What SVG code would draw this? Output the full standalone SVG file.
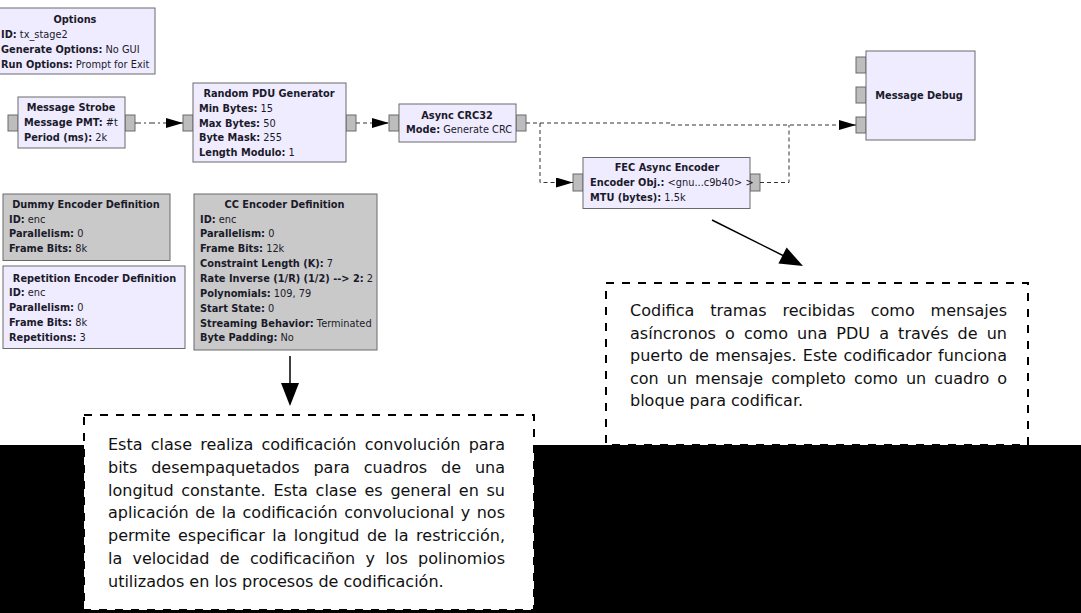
<svg xmlns="http://www.w3.org/2000/svg" width="1081" height="613" viewBox="0 0 1081 613">
<style>
.blk{fill:#f0ecff;stroke:#6a6a6a;stroke-width:1}
.gry{fill:#c9c9c9;stroke:#6a6a6a;stroke-width:1}
.port{fill:#bdbdbd;stroke:#6a6a6a;stroke-width:1}
.t{font-family:"DejaVu Sans",sans-serif;font-size:9.8px;fill:#1a1a2a}
.ttl{font-weight:bold;text-anchor:middle}
.b{font-weight:bold}
.con{fill:none;stroke:#333;stroke-width:1;stroke-dasharray:4,3}
.note{fill:#fff;stroke:#000;stroke-width:2;stroke-dasharray:8,8}
.nt{font-family:"DejaVu Sans",sans-serif;font-size:16px;fill:#111}
</style>
<defs>
<marker id="ah" markerUnits="userSpaceOnUse" markerWidth="18" markerHeight="12" refX="17" refY="5" orient="auto">
<path d="M0,0 L17,5 L0,10 Z" fill="#000"/>
</marker>
</defs>
<rect x="0" y="445" width="1081" height="168" fill="#000"/>

<g id="options">
<rect class="blk" x="-5" y="8" width="160" height="66"/>
<text class="t ttl" x="75" y="22.7">Options</text>
<text class="t" x="1" y="38"><tspan class="b">ID:</tspan> tx_stage2</text>
<text class="t" x="1" y="53"><tspan class="b">Generate Options:</tspan> No GUI</text>
<text class="t" x="1" y="68"><tspan class="b">Run Options:</tspan> Prompt for Exit</text>
</g>

<g id="message_strobe">
<rect class="port" x="8" y="115" width="10" height="16"/>
<rect class="port" x="125" y="115" width="10" height="16"/>
<rect class="blk" x="18" y="97" width="107" height="51"/>
<text class="t ttl" x="71" y="110.7">Message Strobe</text>
<text class="t" x="24" y="126.3"><tspan class="b">Message PMT:</tspan> #t</text>
<text class="t" x="24" y="140.7"><tspan class="b">Period (ms):</tspan> 2k</text>
</g>

<g id="random_pdu">
<rect class="port" x="183" y="115" width="10" height="16"/>
<rect class="port" x="346" y="115" width="10" height="16"/>
<rect class="blk" x="193" y="83" width="153" height="79"/>
<text class="t ttl" x="269" y="97">Random PDU Generator</text>
<text class="t" x="199" y="112"><tspan class="b">Min Bytes:</tspan> 15</text>
<text class="t" x="199" y="126.5"><tspan class="b">Max Bytes:</tspan> 50</text>
<text class="t" x="199" y="141"><tspan class="b">Byte Mask:</tspan> 255</text>
<text class="t" x="199" y="155.5"><tspan class="b">Length Modulo:</tspan> 1</text>
</g>

<g id="async_crc32">
<rect class="port" x="389" y="115" width="10" height="16"/>
<rect class="port" x="516" y="115" width="10" height="16"/>
<rect class="blk" x="399" y="104" width="117" height="38"/>
<text class="t ttl" x="457" y="119.3">Async CRC32</text>
<text class="t" x="406" y="133"><tspan class="b">Mode:</tspan> Generate CRC</text>
</g>

<g id="message_debug">
<rect class="port" x="856" y="57" width="10" height="16"/>
<rect class="port" x="856" y="87" width="10" height="16"/>
<rect class="port" x="856" y="117" width="10" height="16"/>
<rect class="blk" x="866" y="51" width="109" height="89"/>
<text class="t ttl" x="919" y="98.7">Message Debug</text>
</g>

<g id="fec_async_encoder">
<rect class="port" x="573" y="174" width="10" height="17"/>
<rect class="port" x="750" y="174" width="10" height="17"/>
<rect class="blk" x="583" y="157.5" width="167" height="51"/>
<text class="t ttl" x="667" y="171.4">FEC Async Encoder</text>
<text class="t" x="590" y="186.4"><tspan class="b">Encoder Obj.:</tspan> &lt;gnu...c9b40&gt; &gt;</text>
<text class="t" x="590" y="201"><tspan class="b">MTU (bytes):</tspan> 1.5k</text>
</g>

<g id="dummy_encoder">
<rect class="gry" x="3" y="194" width="167" height="66.5"/>
<text class="t ttl" x="86" y="207.7">Dummy Encoder Definition</text>
<text class="t" x="9" y="223"><tspan class="b">ID:</tspan> enc</text>
<text class="t" x="9" y="237"><tspan class="b">Parallelism:</tspan> 0</text>
<text class="t" x="9" y="252"><tspan class="b">Frame Bits:</tspan> 8k</text>
</g>

<g id="repetition_encoder">
<rect class="blk" x="3" y="266" width="182" height="82.5"/>
<text class="t ttl" x="94.5" y="282">Repetition Encoder Definition</text>
<text class="t" x="9" y="296.4"><tspan class="b">ID:</tspan> enc</text>
<text class="t" x="9" y="311"><tspan class="b">Parallelism:</tspan> 0</text>
<text class="t" x="9" y="326.4"><tspan class="b">Frame Bits:</tspan> 8k</text>
<text class="t" x="9" y="341"><tspan class="b">Repetitions:</tspan> 3</text>
</g>

<g id="cc_encoder">
<rect class="gry" x="194" y="194" width="183" height="156"/>
<text class="t ttl" x="284.5" y="207.7">CC Encoder Definition</text>
<text class="t" x="200" y="222.8"><tspan class="b">ID:</tspan> enc</text>
<text class="t" x="200" y="237.3"><tspan class="b">Parallelism:</tspan> 0</text>
<text class="t" x="200" y="252.2"><tspan class="b">Frame Bits:</tspan> 12k</text>
<text class="t" x="200" y="267"><tspan class="b">Constraint Length (K):</tspan> 7</text>
<text class="t" x="200" y="282"><tspan class="b">Rate Inverse (1/R) (1/2) --&gt; 2:</tspan> 2</text>
<text class="t" x="200" y="297"><tspan class="b">Polynomials:</tspan> 109, 79</text>
<text class="t" x="200" y="312"><tspan class="b">Start State:</tspan> 0</text>
<text class="t" x="200" y="327"><tspan class="b">Streaming Behavior:</tspan> Terminated</text>
<text class="t" x="200" y="341"><tspan class="b">Byte Padding:</tspan> No</text>
</g>

<g id="connectors">
<path class="con" style="stroke-dasharray:6,3,2,3" d="M135,123 H183" marker-end="url(#ah)"/>
<path class="con" d="M356,123 H389" marker-end="url(#ah)"/>
<path class="con" d="M526,123 H671 V125 H856" marker-end="url(#ah)"/>
<path class="con" d="M540,123 V182.5 H573" marker-end="url(#ah)"/>
<path class="con" d="M760,182.5 H789 V125"/>
<line x1="712" y1="220" x2="786" y2="257" stroke="#000" stroke-width="1.5"/>
<polygon points="778.4,263.6 786.6,247.6 803,266" fill="#000"/>
<line x1="290" y1="356" x2="290" y2="386" stroke="#000" stroke-width="1.5"/>
<polygon points="281,383 299,383 290,406" fill="#000"/>
</g>

<g id="note_fec">
<rect class="note" x="606" y="283" width="422" height="162"/>
<text class="nt" x="630" y="316" word-spacing="10.8" textLength="377" lengthAdjust="spacing">Codifica tramas recibidas como mensajes</text>
<text class="nt" x="630" y="338.6" word-spacing="4" textLength="377" lengthAdjust="spacing">asíncronos o como una PDU a través de un</text>
<text class="nt" x="630" y="361.2" word-spacing="1.1" textLength="377" lengthAdjust="spacing">puerto de mensajes. Este codificador funciona</text>
<text class="nt" x="630" y="383.8" word-spacing="2.9" textLength="377" lengthAdjust="spacing">con un mensaje completo como un cuadro o</text>
<text class="nt" x="630" y="406.4">bloque para codificar.</text>
</g>

<g id="note_cc">
<rect class="note" x="84" y="415" width="450" height="195"/>
<text class="nt" x="108" y="450" word-spacing="3.1" textLength="397" lengthAdjust="spacing">Esta clase realiza codificación convolución para</text>
<text class="nt" x="108" y="472.8" word-spacing="8.8" textLength="397" lengthAdjust="spacing">bits desempaquetados para cuadros de una</text>
<text class="nt" x="108" y="495.6" word-spacing="2.6" textLength="397" lengthAdjust="spacing">longitud constante. Esta clase es general en su</text>
<text class="nt" x="108" y="518.4" word-spacing="1.5" textLength="397" lengthAdjust="spacing">aplicación de la codificación convolucional y nos</text>
<text class="nt" x="108" y="541.2" word-spacing="2.3" textLength="397" lengthAdjust="spacing">permite especificar la longitud de la restricción,</text>
<text class="nt" x="108" y="564" word-spacing="5.2" textLength="397" lengthAdjust="spacing">la velocidad de codificaciñon y los polinomios</text>
<text class="nt" x="108" y="586.8">utilizados en los procesos de codificación.</text>
</g>
</svg>
